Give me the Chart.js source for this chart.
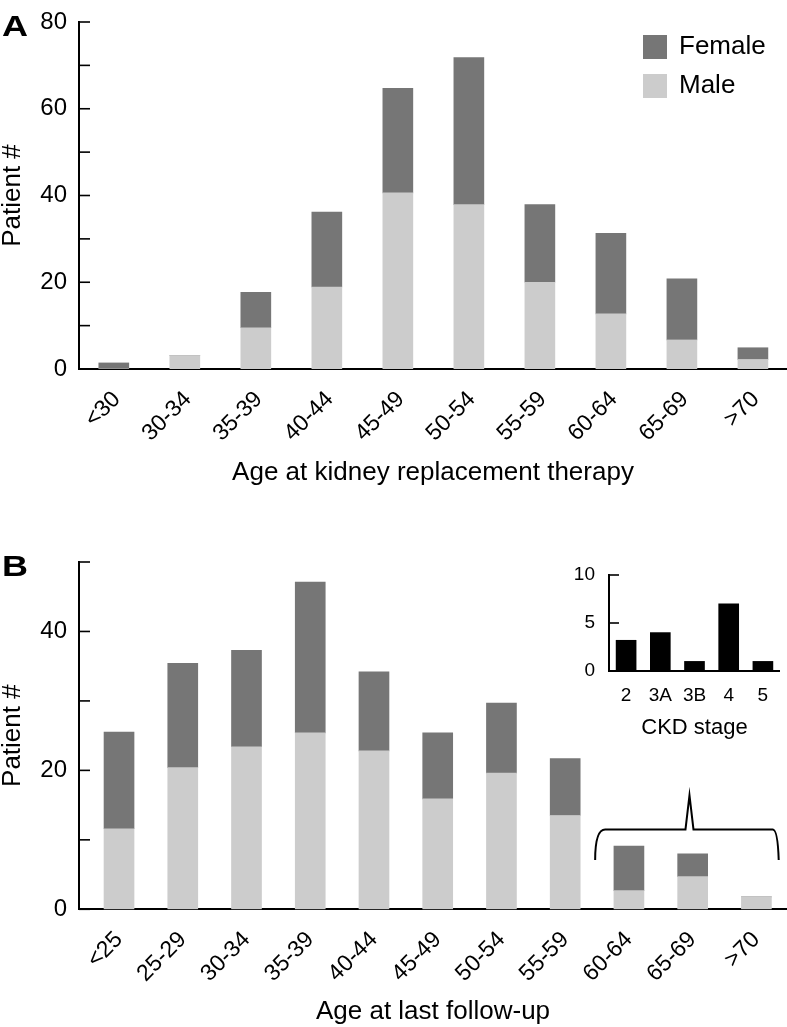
<!DOCTYPE html>
<html>
<head>
<meta charset="utf-8">
<script src="https://cdn.jsdelivr.net/npm/chart.js@4.4.0/dist/chart.umd.min.js"></script>
<style>
  body { margin: 0; background: #fff; }
  #wrap { position: relative; width: 787px; height: 1027px; font-family: "Liberation Sans", Arial, Helvetica, sans-serif; }
  canvas { position: absolute; }
  .panel { position: absolute; left: 2px; font-weight: bold; font-size: 30px; line-height: 30px; transform: scaleX(1.2); transform-origin: left top; }
</style>
</head>
<body>
<div id="wrap">
  <canvas id="chartA" width="787" height="500" style="left:0;top:0"></canvas>
  <canvas id="chartB" width="787" height="527" style="left:0;top:500px"></canvas>
  <canvas id="inset" width="260" height="200" style="left:520px;top:550px"></canvas>
  <div class="panel" style="top:11px">A</div>
  <div class="panel" style="top:551px">B</div>
</div>
<script>
// panel A: age at kidney replacement therapy
const krtAges = ["<30", "30-34", "35-39", "40-44", "45-49", "50-54", "55-59", "60-64", "65-69", ">70"];
const krtMale = [0, 3.1, 9.5, 18.9, 40.6, 37.9, 20.0, 12.7, 6.7, 2.2];
const krtFemale = [1.4, 0, 8.2, 17.3, 24.1, 33.9, 17.9, 18.6, 14.1, 2.7];

// panel B: age at last follow-up
const fuAges = ["<25", "25-29", "30-34", "35-39", "40-44", "45-49", "50-54", "55-59", "60-64", "65-69", ">70"];
const fuMale = [11.6, 20.4, 23.4, 25.4, 22.8, 15.9, 19.6, 13.5, 2.7, 4.7, 1.8];
const fuFemale = [13.9, 15.0, 13.9, 21.7, 11.4, 9.5, 10.1, 8.2, 6.4, 3.3, 0];

// inset: CKD stage of the oldest patients
const ckdStages = ["2", "3A", "3B", "4", "5"];
const ckdCounts = [3.2, 4, 1, 7, 1];

const FONT = "'Liberation Sans', Arial, Helvetica, sans-serif";
Chart.defaults.font.family = FONT;
Chart.defaults.color = "#000";

// ticks on the y axis point into the plot
const tickMarks = {
  id: "tickMarks",
  afterDraw(chart, args, opts) {
    const y = chart.scales.y, ctx = chart.ctx, left = chart.chartArea.left;
    ctx.save();
    ctx.strokeStyle = "#000";
    ctx.lineWidth = 1.6;
    y.ticks.forEach(t => {
      const py = y.getPixelForValue(t.value);
      ctx.beginPath();
      ctx.moveTo(left, py);
      ctx.lineTo(left + opts.length, py);
      ctx.stroke();
    });
    ctx.restore();
  }
};

// legend boxes inside the plot, top right
const boxLegend = {
  id: "boxLegend",
  afterDraw(chart) {
    const ctx = chart.ctx, a = chart.chartArea;
    const sets = chart.data.datasets.slice().reverse();
    ctx.save();
    ctx.font = "26px " + FONT;
    ctx.textBaseline = "middle";
    sets.forEach((ds, i) => {
      const x = a.right - 144, y = a.top + 13 + i * 39;
      ctx.fillStyle = ds.backgroundColor;
      ctx.fillRect(x, y, 24, 24);
      ctx.fillStyle = "#000";
      ctx.fillText(ds.label, x + 36, y + 12);
    });
    ctx.restore();
  }
};

// brace over the last three groups in B
const bracket = {
  id: "bracket",
  afterDatasetsDraw(chart, args, o) {
    const xs = chart.scales.x, ys = chart.scales.y, ctx = chart.ctx;
    const X = v => xs.getPixelForValue(v), Y = v => ys.getPixelForValue(v);
    ctx.save();
    ctx.lineWidth = 2;
    ctx.strokeStyle = "#000";
    ctx.beginPath();
    ctx.moveTo(X(o.from), Y(o.foot));
    ctx.quadraticCurveTo(X(o.from), Y(o.level), X(o.from) + 10, Y(o.level));
    ctx.lineTo(X(o.peakAt) - 4, Y(o.level));
    ctx.lineTo(X(o.peakAt), Y(o.peak));
    ctx.lineTo(X(o.peakAt) + 4, Y(o.level));
    ctx.lineTo(X(o.to) - 6, Y(o.level));
    ctx.quadraticCurveTo(X(o.to) - 1, Y(o.level), X(o.to), Y(o.foot));
    ctx.stroke();
    ctx.restore();
  }
};

function stackedPanel(id, labels, male, female, o) {
  const pts = arr => arr.map((v, i) => ({ x: i, y: v }));
  return new Chart(document.getElementById(id), {
    type: "bar",
    data: {
      datasets: [
        { label: "Male", data: pts(male), backgroundColor: "#cccccc", barThickness: 30 },
        { label: "Female", data: pts(female), backgroundColor: "#767676", barThickness: 30 },
      ],
    },
    plugins: [tickMarks].concat(o.extra),
    options: {
      responsive: false,
      animation: false,
      layout: { padding: { left: 0, right: 0, top: o.top, bottom: o.bottom } },
      plugins: {
        legend: { display: false },
        tooltip: { enabled: false },
        tickMarks: { length: 11 },
        bracket: o.bracket,
      },
      scales: {
        x: {
          type: "linear",
          stacked: true,
          offset: false,
          bounds: "data",
          min: o.xmin,
          max: o.xmax,
          afterBuildTicks: s => { s.ticks = labels.map((_, i) => ({ value: i })); },
          afterFit: s => { s.height = o.xHeight; s.paddingLeft = 0; s.paddingRight = 0; },
          grid: { display: false, drawTicks: false, offset: false },
          border: { color: "#000", width: 2 },
          ticks: {
            autoSkip: false, includeBounds: false, minRotation: 45, maxRotation: 45,
            padding: 17, labelOffset: o.shift, font: { size: 23 }, callback: v => labels[v],
          },
          title: { display: true, text: o.xTitle, font: { size: 26, lineHeight: 1 }, padding: 0 },
        },
        y: {
          stacked: true,
          min: 0,
          max: o.ymax,
          afterFit: s => { s.width = 79; s.paddingTop = 0; s.paddingBottom = 0; },
          grid: { display: false, drawTicks: false },
          border: { color: "#000", width: 2 },
          ticks: { stepSize: 10, autoSkip: false, padding: 12, font: { size: 24 }, callback: v => (v % 20 === 0 ? v : "") },
          title: { display: true, text: "Patient #", font: { size: 26, lineHeight: 1 }, padding: 0 },
        },
      },
    },
  });
}

stackedPanel("chartA", krtAges, krtMale, krtFemale, {
  top: 22, bottom: 14.5, xHeight: 116.5, shift: 3, xmin: -0.49, xmax: 9.48, ymax: 80,
  xTitle: "Age at kidney replacement therapy", extra: [boxLegend],
});

stackedPanel("chartB", fuAges, fuMale, fuFemale, {
  top: 62, bottom: 2, xHeight: 115.7, shift: 0, xmin: -0.628, xmax: 10.48, ymax: 50,
  xTitle: "Age at last follow-up", extra: [bracket],
  bracket: { from: 7.47, to: 10.35, peakAt: 8.95, foot: 7.1, level: 11.5, peak: 16.4 },
});

new Chart(document.getElementById("inset"), {
  type: "bar",
  data: {
    labels: ckdStages,
    datasets: [{ data: ckdCounts, backgroundColor: "#000", barThickness: 20 }],
  },
  plugins: [tickMarks],
  options: {
    responsive: false,
    animation: false,
    layout: { padding: { left: 0, right: 0, top: 25, bottom: 11 } },
    plugins: { legend: { display: false }, tooltip: { enabled: false }, tickMarks: { length: 10 } },
    scales: {
      x: {
        grid: { display: false, drawTicks: false },
        border: { color: "#000", width: 2 },
        afterFit: s => { s.height = 68; s.paddingLeft = 0; s.paddingRight = 0; },
        ticks: { padding: 13, maxRotation: 0, font: { size: 19 } },
        title: { display: true, text: "CKD stage", font: { size: 22, lineHeight: 1 }, padding: 0 },
      },
      y: {
        min: 0,
        max: 10,
        afterFit: s => { s.width = 89; s.paddingTop = 0; s.paddingBottom = 0; },
        grid: { display: false, drawTicks: false },
        border: { color: "#000", width: 2 },
        ticks: { stepSize: 5, padding: 14, font: { size: 19 } },
      },
    },
  },
});
</script>
</body>
</html>
